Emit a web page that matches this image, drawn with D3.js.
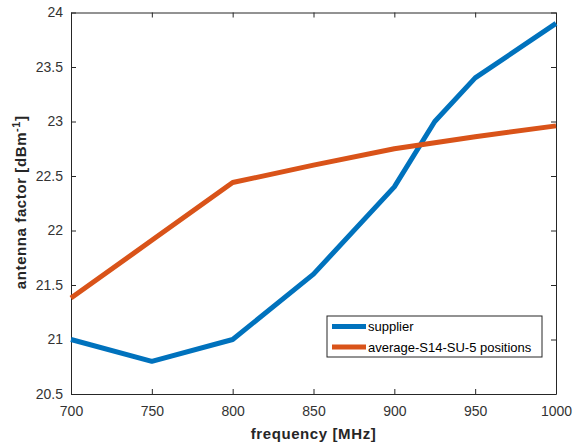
<!DOCTYPE html>
<html>
<head>
<meta charset="UTF-8" />
<script src="https://d3js.org/d3.v7.min.js"></script>
<style>
  body { margin: 0; background: #fff; font-family: "Liberation Sans", Arial, sans-serif; }
  svg { display: block; }
  .tick text { font-family: "Liberation Sans", Arial, sans-serif; font-size: 14px; fill: #333; }
  .axis-label { font-family: "Liberation Sans", Arial, sans-serif; font-size: 15px; letter-spacing: 0.6px; font-weight: bold; fill: #262626; }
</style>
</head>
<body>
<svg width="581" height="443"></svg>
<script>
  // data
  const freqSupplier = [700, 750, 800, 850, 900, 925, 950, 1000];
  const supplier = [21.0, 20.8, 21.0, 21.6, 22.4, 23.0, 23.4, 23.9];
  const freqAverage = [700, 750, 800, 850, 900, 950, 1000];
  const average = [21.38, 21.91, 22.44, 22.6, 22.75, 22.86, 22.96];
  const xTicks = [700, 750, 800, 850, 900, 950, 1000];
  const yTicks = [20.5, 21, 21.5, 22, 22.5, 23, 23.5, 24];
  const seriesNames = ["supplier", "average-S14-SU-5 positions"];
  const seriesColors = ["#0072BD", "#D95319"];

  const svg = d3.select("svg");
  const margin = {top: 12.5, right: 25, bottom: 49, left: 71};
  const width = 581 - margin.left - margin.right,
        height = 443 - margin.top - margin.bottom;

  const g = svg.append("g").attr("transform", `translate(${margin.left},${margin.top})`);

  const x = d3.scaleLinear().domain([700, 1000]).range([0, width]);
  const y = d3.scaleLinear().domain([20.5, 24]).range([height, 0]);

  // axes, ticks pointing inward
  const axisColor = "#262626";
  const xAx = g.append("g").attr("transform", `translate(0,${height})`)
    .call(d3.axisBottom(x).tickValues(xTicks).tickSizeInner(-5).tickSizeOuter(0).tickPadding(12).tickFormat(d3.format("d")));
  const xTop = g.append("g")
    .call(d3.axisTop(x).tickValues(xTicks).tickSizeInner(-5).tickSizeOuter(0).tickFormat(""));
  const yAx = g.append("g")
    .call(d3.axisLeft(y).tickValues(yTicks).tickSizeInner(-5).tickSizeOuter(0).tickPadding(8).tickFormat(d => d));
  const yRight = g.append("g").attr("transform", `translate(${width},0)`)
    .call(d3.axisRight(y).tickValues(yTicks).tickSizeInner(-5).tickSizeOuter(0).tickFormat(""));
  [xAx, xTop, yAx, yRight].forEach(a => {
    a.select(".domain").attr("stroke", axisColor).attr("stroke-width", 1);
    a.selectAll(".tick line").attr("stroke", axisColor);
  });
  xAx.selectAll(".tick text").attr("dy", "0.71em");

  // lines
  const line = d3.line().x(d => x(d[0])).y(d => y(d[1]));
  const seriesData = [
    d3.zip(freqSupplier, supplier),
    d3.zip(freqAverage, average)
  ];
  seriesData.forEach((s, i) => {
    g.append("path")
      .datum(s)
      .attr("fill", "none")
      .attr("stroke", seriesColors[i])
      .attr("stroke-width", 5)
      .attr("stroke-linejoin", "round")
      .attr("d", line);
  });

  // axis labels
  g.append("text")
    .attr("class", "axis-label")
    .attr("x", width / 2)
    .attr("y", height + 45)
    .attr("text-anchor", "middle")
    .text("frequency [MHz]");

  const yl = g.append("text")
    .attr("class", "axis-label")
    .attr("transform", "rotate(-90)")
    .attr("x", -height / 2 + 1)
    .attr("y", -45)
    .attr("text-anchor", "middle");
  yl.append("tspan").text("antenna factor [dBm");
  yl.append("tspan").attr("dy", -6).style("font-size", "11px").text("-1");
  yl.append("tspan").attr("dy", 6).text("]");

  // legend
  const legend = svg.append("g").attr("transform", "translate(327,316)");
  legend.append("rect")
    .attr("width", 215).attr("height", 41)
    .attr("fill", "#fff").attr("stroke", axisColor).attr("stroke-width", 1);
  seriesNames.forEach((name, i) => {
    legend.append("line")
      .attr("x1", 5).attr("x2", 39)
      .attr("y1", 10.5 + i * 20.5).attr("y2", 10.5 + i * 20.5)
      .attr("stroke", seriesColors[i]).attr("stroke-width", 5);
    legend.append("text")
      .attr("x", 41).attr("y", 10.5 + i * 20.5)
      .attr("dy", "0.35em")
      .style("font-size", "13px")
      .attr("fill", "#000")
      .text(name);
  });
</script>
</body>
</html>
